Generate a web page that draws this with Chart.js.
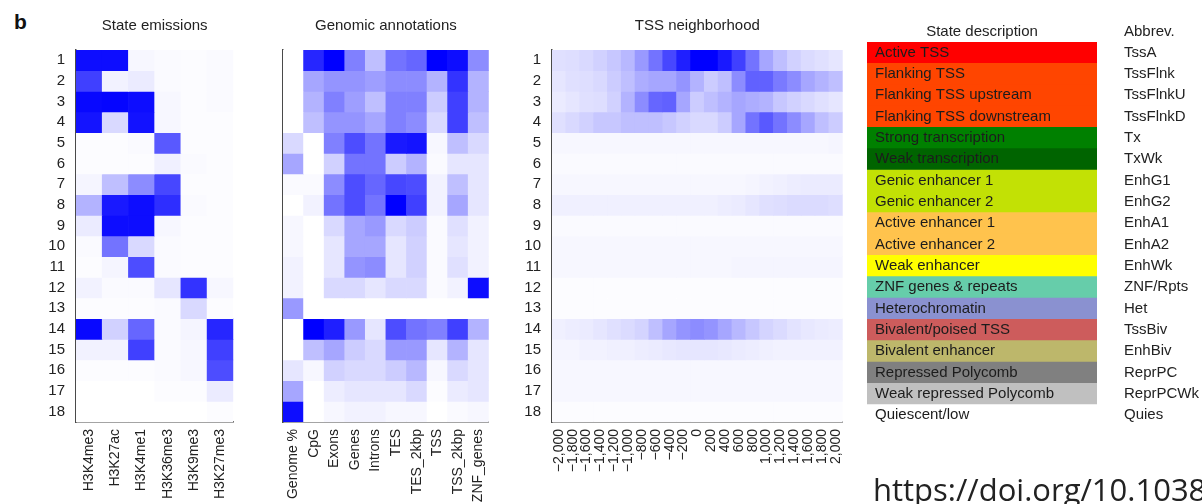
<!DOCTYPE html>
<html lang="en">
<head>
<meta charset="UTF-8">
<title>Chromatin states</title>
<script src="https://cdn.jsdelivr.net/npm/chart.js"></script>
<style>
    * { margin: 0; padding: 0; box-sizing: border-box; }
    body {
        width: 1202px;
        height: 504px;
        background: #fff;
        position: relative;
        overflow: hidden;
        font-family: "Liberation Sans", Arial, sans-serif;
    }
    canvas { position: absolute; top: 0; }
    .panel-letter {
        position: absolute;
        left: 14px;
        top: 11px;
        font-size: 21px;
        font-weight: bold;
        line-height: 1;
        color: #111;
    }
    .doi {
        position: absolute;
        left: 873px;
        top: 474px;
        font-family: "Open Sans", sans-serif;
        font-size: 31px;
        line-height: 1;
        color: #222;
        white-space: nowrap;
    }
</style>
</head>
<body>
<div class="panel-letter">b</div>
<canvas id="emissions" width="245" height="504" style="left:0"></canvas>
<canvas id="annotations" width="258" height="504" style="left:245px"></canvas>
<canvas id="tss" width="357" height="504" style="left:503px"></canvas>
<canvas id="states" width="342" height="504" style="left:860px"></canvas>
<div class="doi">https://doi.org/10.1038</div>

<script>
// ---- data (0 = white, 1 = full blue) ----
const stateNumbers = [1, 2, 3, 4, 5, 6, 7, 8, 9, 10, 11, 12, 13, 14, 15, 16, 17, 18];

const marks = ['H3K4me3', 'H3K27ac', 'H3K4me1', 'H3K36me3', 'H3K9me3', 'H3K27me3'];
const emissionValues = [
    [0.95, 0.95, 0.03, 0.02, 0.01, 0.02],
    [0.75, 0.05, 0.08, 0.02, 0.01, 0.02],
    [0.97, 0.98, 0.95, 0.03, 0.01, 0.02],
    [0.92, 0.15, 0.93, 0.03, 0.01, 0.01],
    [0.01, 0.01, 0.02, 0.65, 0.01, 0.01],
    [0.01, 0.01, 0.01, 0.06, 0.02, 0.01],
    [0.04, 0.25, 0.45, 0.72, 0.01, 0.01],
    [0.30, 0.90, 0.95, 0.82, 0.02, 0.01],
    [0.08, 0.95, 0.95, 0.03, 0.01, 0.01],
    [0.02, 0.55, 0.15, 0.02, 0.01, 0.01],
    [0.01, 0.04, 0.70, 0.02, 0.01, 0.01],
    [0.05, 0.02, 0.02, 0.10, 0.80, 0.03],
    [0.01, 0.01, 0.01, 0.02, 0.15, 0.01],
    [0.97, 0.18, 0.60, 0.02, 0.04, 0.85],
    [0.05, 0.05, 0.75, 0.02, 0.03, 0.75],
    [0.01, 0.01, 0.01, 0.02, 0.03, 0.70],
    [0.00, 0.00, 0.00, 0.01, 0.01, 0.08],
    [0.00, 0.00, 0.00, 0.00, 0.00, 0.01]
];

const annotations = ['Genome %', 'CpG', 'Exons', 'Genes', 'Introns', 'TES', 'TES_2kbp', 'TSS', 'TSS_2kbp', 'ZNF_genes'];
const annotationValues = [
    [0.00, 0.85, 1.00, 0.50, 0.25, 0.55, 0.60, 1.00, 0.95, 0.45],
    [0.00, 0.35, 0.42, 0.42, 0.38, 0.45, 0.45, 0.30, 0.80, 0.30],
    [0.00, 0.30, 0.50, 0.38, 0.25, 0.50, 0.50, 0.20, 0.75, 0.30],
    [0.00, 0.25, 0.42, 0.42, 0.35, 0.50, 0.45, 0.15, 0.75, 0.25],
    [0.15, 0.00, 0.50, 0.70, 0.55, 0.90, 0.92, 0.03, 0.25, 0.15],
    [0.35, 0.00, 0.18, 0.55, 0.55, 0.20, 0.30, 0.02, 0.10, 0.10],
    [0.02, 0.02, 0.45, 0.70, 0.60, 0.72, 0.70, 0.05, 0.25, 0.10],
    [0.00, 0.05, 0.55, 0.70, 0.55, 1.00, 0.75, 0.05, 0.35, 0.10],
    [0.03, 0.00, 0.15, 0.35, 0.40, 0.15, 0.20, 0.02, 0.12, 0.05],
    [0.03, 0.00, 0.10, 0.35, 0.35, 0.10, 0.18, 0.02, 0.10, 0.05],
    [0.05, 0.00, 0.10, 0.42, 0.45, 0.10, 0.18, 0.02, 0.12, 0.05],
    [0.05, 0.00, 0.15, 0.15, 0.10, 0.15, 0.15, 0.02, 0.05, 0.95],
    [0.40, 0.00, 0.00, 0.00, 0.00, 0.00, 0.00, 0.00, 0.00, 0.00],
    [0.00, 1.00, 0.88, 0.40, 0.10, 0.70, 0.55, 0.50, 0.75, 0.30],
    [0.00, 0.25, 0.35, 0.20, 0.15, 0.40, 0.40, 0.10, 0.30, 0.10],
    [0.10, 0.03, 0.18, 0.15, 0.15, 0.20, 0.28, 0.03, 0.15, 0.10],
    [0.35, 0.00, 0.07, 0.10, 0.10, 0.10, 0.15, 0.01, 0.08, 0.10],
    [0.95, 0.00, 0.03, 0.05, 0.05, 0.03, 0.03, 0.00, 0.02, 0.03]
];

const tssOffsets = ['\u22122,000', '\u22121,800', '\u22121,600', '\u22121,400', '\u22121,200', '\u22121,000',
    '\u2212800', '\u2212600', '\u2212400', '\u2212200', '0', '200', '400', '600', '800',
    '1,000', '1,200', '1,400', '1,600', '1,800', '2,000'];
const tssValues = [
    [0.12, 0.13, 0.15, 0.18, 0.22, 0.28, 0.40, 0.55, 0.72, 0.88, 1.00, 1.00, 0.90, 0.75, 0.55, 0.35, 0.25, 0.18, 0.14, 0.12, 0.10],
    [0.10, 0.12, 0.13, 0.15, 0.20, 0.25, 0.32, 0.35, 0.35, 0.42, 0.30, 0.20, 0.25, 0.45, 0.62, 0.62, 0.52, 0.45, 0.35, 0.30, 0.25],
    [0.08, 0.10, 0.12, 0.13, 0.18, 0.30, 0.45, 0.60, 0.62, 0.35, 0.20, 0.25, 0.30, 0.35, 0.32, 0.30, 0.22, 0.18, 0.15, 0.12, 0.10],
    [0.12, 0.15, 0.18, 0.22, 0.22, 0.25, 0.25, 0.25, 0.22, 0.18, 0.15, 0.15, 0.20, 0.35, 0.55, 0.65, 0.55, 0.45, 0.35, 0.25, 0.20],
    [0.03, 0.03, 0.03, 0.03, 0.03, 0.03, 0.03, 0.03, 0.03, 0.03, 0.03, 0.03, 0.03, 0.03, 0.03, 0.03, 0.03, 0.03, 0.03, 0.03, 0.04],
    [0.02, 0.02, 0.02, 0.02, 0.02, 0.02, 0.02, 0.02, 0.02, 0.02, 0.02, 0.02, 0.02, 0.02, 0.02, 0.02, 0.02, 0.02, 0.02, 0.02, 0.02],
    [0.03, 0.03, 0.03, 0.03, 0.03, 0.03, 0.03, 0.03, 0.03, 0.03, 0.03, 0.03, 0.03, 0.03, 0.04, 0.05, 0.06, 0.07, 0.08, 0.08, 0.08],
    [0.06, 0.06, 0.06, 0.06, 0.06, 0.06, 0.06, 0.06, 0.06, 0.06, 0.06, 0.06, 0.07, 0.08, 0.10, 0.12, 0.13, 0.14, 0.14, 0.14, 0.13],
    [0.02, 0.02, 0.02, 0.02, 0.02, 0.02, 0.02, 0.02, 0.02, 0.02, 0.02, 0.02, 0.02, 0.02, 0.02, 0.02, 0.02, 0.02, 0.02, 0.02, 0.02],
    [0.03, 0.03, 0.03, 0.03, 0.03, 0.03, 0.03, 0.03, 0.03, 0.03, 0.03, 0.03, 0.03, 0.03, 0.03, 0.03, 0.03, 0.03, 0.03, 0.03, 0.03],
    [0.03, 0.03, 0.03, 0.03, 0.03, 0.03, 0.03, 0.03, 0.03, 0.03, 0.03, 0.03, 0.03, 0.04, 0.04, 0.04, 0.04, 0.04, 0.04, 0.04, 0.04],
    [0.01, 0.01, 0.01, 0.01, 0.01, 0.01, 0.01, 0.01, 0.01, 0.01, 0.01, 0.01, 0.01, 0.01, 0.01, 0.01, 0.01, 0.01, 0.01, 0.01, 0.01],
    [0.01, 0.01, 0.01, 0.01, 0.01, 0.01, 0.01, 0.01, 0.01, 0.01, 0.01, 0.01, 0.01, 0.01, 0.01, 0.01, 0.01, 0.01, 0.01, 0.01, 0.01],
    [0.06, 0.07, 0.08, 0.10, 0.12, 0.14, 0.17, 0.25, 0.35, 0.42, 0.45, 0.42, 0.35, 0.28, 0.22, 0.17, 0.14, 0.11, 0.09, 0.08, 0.07],
    [0.04, 0.04, 0.05, 0.05, 0.06, 0.06, 0.07, 0.08, 0.09, 0.10, 0.10, 0.10, 0.09, 0.08, 0.07, 0.06, 0.05, 0.05, 0.05, 0.05, 0.05],
    [0.03, 0.03, 0.03, 0.03, 0.03, 0.03, 0.03, 0.03, 0.03, 0.03, 0.03, 0.03, 0.03, 0.03, 0.03, 0.03, 0.03, 0.03, 0.03, 0.03, 0.03],
    [0.03, 0.03, 0.03, 0.03, 0.03, 0.03, 0.03, 0.03, 0.03, 0.03, 0.03, 0.03, 0.03, 0.03, 0.03, 0.03, 0.03, 0.03, 0.03, 0.03, 0.03],
    [0.01, 0.01, 0.01, 0.01, 0.01, 0.01, 0.01, 0.01, 0.01, 0.01, 0.01, 0.01, 0.01, 0.01, 0.01, 0.01, 0.01, 0.01, 0.01, 0.01, 0.01]
];

const stateDescriptions = ['Active TSS', 'Flanking TSS', 'Flanking TSS upstream', 'Flanking TSS downstream',
    'Strong transcription', 'Weak transcription', 'Genic enhancer 1', 'Genic enhancer 2',
    'Active enhancer 1', 'Active enhancer 2', 'Weak enhancer', 'ZNF genes & repeats',
    'Heterochromatin', 'Bivalent/poised TSS', 'Bivalent enhancer', 'Repressed Polycomb',
    'Weak repressed Polycomb', 'Quiescent/low'];
const stateAbbrevs = ['TssA', 'TssFlnk', 'TssFlnkU', 'TssFlnkD', 'Tx', 'TxWk', 'EnhG1', 'EnhG2',
    'EnhA1', 'EnhA2', 'EnhWk', 'ZNF/Rpts', 'Het', 'TssBiv', 'EnhBiv', 'ReprPC', 'ReprPCWk', 'Quies'];
const stateColors = ['#FF0000', '#FF4500', '#FF4500', '#FF4500', '#008000', '#006400', '#C2E105', '#C2E105',
    '#FFC34D', '#FFC34D', '#FFFF00', '#66CDAA', '#8A91D0', '#CD5C5C', '#BDB76B', '#808080', '#C0C0C0', '#FFFFFF'];

// ---- drawing ----
const FONT = '"Liberation Sans", Arial, Helvetica, sans-serif';
const AXIS = '#4a4a4a';
const TEXT = '#222';
Chart.defaults.font.family = FONT;
Chart.defaults.color = TEXT;

function blue(v) {
    const c = Math.round(255 * (1 - v));
    return `rgb(${c}, ${c}, 255)`;
}

// one heatmap = one floating-bar dataset per state row
function heatmap(id, columns, values, title, opts) {
    const datasets = values.map((row, i) => ({
        data: columns.map(() => [stateNumbers[i] - 0.5, stateNumbers[i] + 0.5]),
        backgroundColor: row.map(blue),
        borderWidth: 0,
        grouped: false,
        barPercentage: 1,
        categoryPercentage: 1
    }));

    return new Chart(document.getElementById(id), {
        type: 'bar',
        data: { labels: columns, datasets: datasets },
        options: {
            responsive: false,
            animation: false,
            layout: { padding: { right: opts.padRight, bottom: 2 } },
            plugins: {
                legend: { display: false },
                tooltip: { enabled: false },
                title: {
                    display: true,
                    text: title,
                    fullSize: false,
                    color: TEXT,
                    font: { size: 15, weight: 'normal' },
                    padding: { top: 17, bottom: 15 }
                }
            },
            scales: {
                x: {
                    grid: { display: false, drawTicks: false },
                    border: { display: true, color: AXIS, width: 1.5 },
                    ticks: {
                        autoSkip: false,
                        maxRotation: 90,
                        minRotation: 90,
                        padding: 7,
                        color: TEXT,
                        font: { size: opts.xFont }
                    },
                    afterFit: (s) => { s.height = 80; }
                },
                y: {
                    type: 'linear',
                    reverse: true,
                    min: 0.5,
                    max: 18.5,
                    grid: { display: false, drawTicks: false },
                    border: { display: true, color: AXIS, width: 1.5 },
                    ticks: { display: opts.showRows, padding: 11, color: TEXT, font: { size: 15 } },
                    afterBuildTicks: (s) => { s.ticks = stateNumbers.map(v => ({ value: v })); },
                    afterFit: (s) => { s.width = opts.yWidth; }
                }
            }
        }
    });
}

heatmap('emissions', marks, emissionValues, 'State emissions', { yWidth: 76, padRight: 11, xFont: 14, showRows: true });
heatmap('annotations', annotations, annotationValues, 'Genomic annotations', { yWidth: 38, padRight: 12, xFont: 14, showRows: false });
heatmap('tss', tssOffsets, tssValues, 'TSS neighborhood', { yWidth: 49, padRight: 15, xFont: 14, showRows: true });

// state description table as a horizontal bar chart
const abbrevHeader = {
    id: 'abbrevHeader',
    afterDraw(chart) {
        const ctx = chart.ctx;
        ctx.save();
        ctx.font = '15px ' + FONT;
        ctx.fillStyle = TEXT;
        ctx.textAlign = 'left';
        ctx.textBaseline = 'middle';
        ctx.fillText('Abbrev.', chart.chartArea.right + 27, 32);
        ctx.restore();
    }
};

new Chart(document.getElementById('states'), {
    type: 'bar',
    data: {
        labels: stateDescriptions,
        datasets: [{
            data: stateDescriptions.map(() => 1),
            backgroundColor: stateColors,
            borderWidth: 0,
            barPercentage: 1,
            categoryPercentage: 1
        }]
    },
    options: {
        indexAxis: 'y',
        responsive: false,
        animation: false,
        layout: { padding: { bottom: 78 } },
        plugins: {
            legend: { display: false },
            tooltip: { enabled: false },
            title: {
                display: true,
                text: 'State description',
                fullSize: false,
                color: TEXT,
                font: { size: 15, weight: 'normal' },
                padding: { top: 23, bottom: 1 }
            }
        },
        scales: {
            x: { display: false, min: 0, max: 1 },
            y: {
                z: 1,
                grid: { display: false, drawTicks: false },
                border: { display: false },
                ticks: { z: 1, mirror: true, padding: 8, color: '#1c1c1c', font: { size: 15 } },
                afterFit: (s) => { s.width = 7; }
            },
            abbrev: {
                type: 'category',
                axis: 'y',
                position: 'right',
                labels: stateAbbrevs,
                offset: true,
                grid: { display: false, drawTicks: false },
                border: { display: false },
                ticks: { padding: 27, color: TEXT, font: { size: 15 } },
                afterFit: (s) => { s.width = 105; }
            }
        }
    },
    plugins: [abbrevHeader]
});
</script>
</body>
</html>
